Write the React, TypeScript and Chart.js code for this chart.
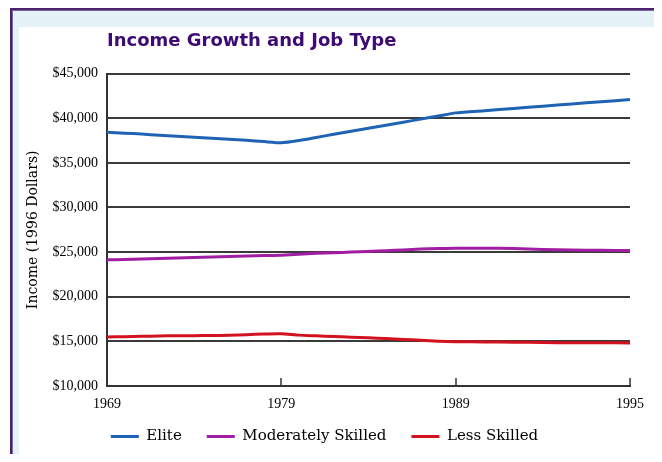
import React, { useEffect, useRef } from "react";
import { Chart, registerables } from "chart.js";

Chart.register(...registerables);

const chartTitle = "Income Growth and Job Type";
const yAxisTitle = "Income (1996 Dollars)";
const seriesNames = ["Elite", "Moderately Skilled", "Less Skilled"];
const seriesColors = ["#1f63b5", "#a01ea3", "#d2121f"];

const tickYears = [1969, 1979, 1989, 1995];
const years = [
  1969, 1970, 1971, 1972, 1973, 1974, 1975, 1976, 1977, 1978, 1979, 1980, 1981, 1982,
  1983, 1984, 1985, 1986, 1987, 1988, 1989, 1990, 1991, 1992, 1993, 1994, 1995,
];
const eliteIncome = [
  38430, 38330, 38220, 38100, 37990, 37880, 37760, 37640, 37520, 37380, 37250, 37500, 37850, 38200,
  38550, 38880, 39220, 39560, 39900, 40250, 40600, 40850, 41100, 41350, 41600, 41850, 42090,
];
const moderateIncome = [
  24150, 24170, 24230, 24280, 24350, 24400, 24450, 24500, 24560, 24610, 24660, 24760, 24860, 24930,
  25000, 25080, 25160, 25250, 25340, 25400, 25420, 25420, 25410, 25300, 25230, 25200, 25180,
];
const lessIncome = [
  15500, 15530, 15560, 15600, 15630, 15640, 15650, 15680, 15740, 15830, 15860, 15700, 15620, 15540,
  15470, 15400, 15320, 15220, 15120, 15020, 14970, 14940, 14910, 14870, 14850, 14840, 14830,
];
const yMin = 10000;
const yMax = 45000;
const yStep = 5000;

// position of a year on the axis: the four labelled years are evenly spaced
function yearToPos(year: number): number {
  for (let i = 0; i < tickYears.length - 1; i++) {
    if (year <= tickYears[i + 1]) {
      return i + (year - tickYears[i]) / (tickYears[i + 1] - tickYears[i]);
    }
  }
  return tickYears.length - 1;
}

const innerTicks = {
  id: "innerTicks",
  afterDatasetsDraw(chart: any) {
    const x = chart.scales.x;
    const { ctx, chartArea } = chart;
    ctx.save();
    ctx.strokeStyle = "#333";
    ctx.lineWidth = 1.5;
    for (let i = 1; i < tickYears.length; i++) {
      const px = Math.round(x.getPixelForValue(i));
      ctx.beginPath();
      ctx.moveTo(px, chartArea.bottom);
      ctx.lineTo(px, chartArea.bottom - 8);
      ctx.stroke();
    }
    ctx.restore();
  },
};

export default function App() {
  const ref = useRef<HTMLCanvasElement | null>(null);

  useEffect(() => {
    if (!ref.current) return;
    const allSeries = [eliteIncome, moderateIncome, lessIncome];
    const chart = new Chart(ref.current, {
      type: "line",
      data: {
        datasets: allSeries.map((vals, i) => ({
          label: seriesNames[i],
          data: years.map((yr, j) => ({ x: yearToPos(yr), y: vals[j] })),
          borderColor: seriesColors[i],
          backgroundColor: seriesColors[i],
          borderWidth: 3,
          pointRadius: 0,
          tension: 0.2,
        })),
      },
      options: {
        responsive: false,
        animation: false,
        devicePixelRatio: 1,
        layout: { padding: { left: 0, right: 25, top: 0, bottom: 8 } },
        scales: {
          x: {
            type: "linear",
            min: 0,
            max: tickYears.length - 1,
            afterFit: (scale: any) => {
              scale.height = 18;
            },
            ticks: {
              stepSize: 1,
              mirror: true,
              padding: -26.4,
              autoSkip: false,
              maxRotation: 0,
              color: "#000",
              font: { family: "Liberation Serif", size: 14 },
              callback: (v: any) => String(tickYears[Math.round(Number(v))] ?? ""),
            },
            grid: { display: false, drawTicks: false },
            border: { display: true, color: "#333", width: 2 },
          },
          y: {
            min: yMin,
            max: yMax,
            afterFit: (scale: any) => {
              scale.width = 88;
            },
            ticks: {
              stepSize: yStep,
              padding: 9,
              color: "#000",
              font: { family: "Liberation Serif", size: 14 },
              callback: (v: any) => "$" + Number(v).toLocaleString("en-US"),
            },
            grid: { color: "#3a3a3a", lineWidth: 2, drawTicks: false },
            border: { display: true, color: "#333", width: 2 },
            title: {
              display: true,
              text: yAxisTitle,
              color: "#000",
              padding: { top: 6, bottom: 0 },
              font: { family: "DejaVu Serif", size: 14 },
            },
          },
        },
        plugins: {
          title: {
            display: true,
            text: chartTitle,
            align: "start",
            fullSize: false,
            color: "#3d0b73",
            padding: { top: 4, bottom: 21 },
            font: { family: "DejaVu Sans", size: 18, weight: "bold" },
          },
          legend: {
            position: "bottom",
            align: "center",
            labels: {
              usePointStyle: true,
              pointStyle: "line",
              pointStyleWidth: 28,
              padding: 25,
              color: "#000",
              font: { family: "DejaVu Serif", size: 15 },
            },
          },
          tooltip: { enabled: false },
        },
      },
      plugins: [innerTicks],
    } as any);
    return () => chart.destroy();
  }, []);

  return (
    <div
      style={{
        marginLeft: 2,
        marginBottom: -8,
        width: 648,
        height: 454,
        boxSizing: "border-box",
        border: "2px solid #4a2270",
        borderBottom: "none",
        overflow: "hidden",
      }}
    >
      <div
        style={{
          boxSizing: "border-box",
          height: 452,
          border: "1px solid #80649c",
          borderBottom: "none",
          background: "#e4f2f8",
          paddingTop: 16,
          paddingLeft: 6,
        }}
      >
        <div style={{ background: "#fff", width: 636, height: 435 }}>
          <canvas ref={ref} width={636} height={435} style={{ display: "block" }} />
        </div>
      </div>
    </div>
  );
}
